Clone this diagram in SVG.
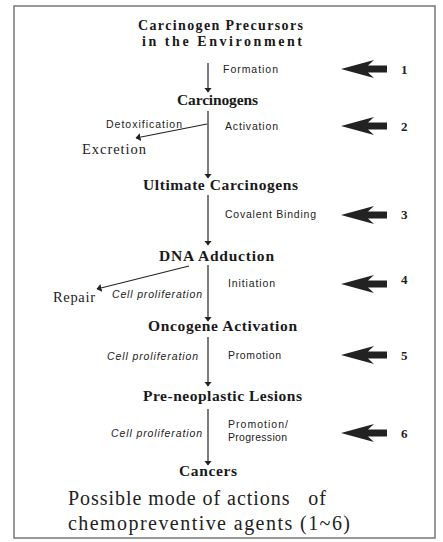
<svg xmlns="http://www.w3.org/2000/svg" width="443" height="542" viewBox="0 0 443 542">
<style>
.h{font-family:"Liberation Serif",serif;font-weight:bold;font-size:15.5px;fill:#1a1a1a}
.t{font-size:14px}
.s{font-family:"Liberation Sans",sans-serif;font-size:10.5px;fill:#222}
.i{font-family:"Liberation Sans",sans-serif;font-style:italic;font-size:10.5px;fill:#222}
.r{font-family:"Liberation Serif",serif;font-size:14.5px;fill:#222}
.n{font-family:"Liberation Serif",serif;font-weight:bold;font-size:13px;fill:#222}
.c{font-family:"Liberation Serif",serif;font-size:20px;fill:#222;white-space:pre}
.ln{stroke:#222;stroke-width:1.2;fill:none}
.big{fill:#222}
</style>
<defs>
<marker id="ah" viewBox="0 0 10 10" refX="9" refY="5" markerWidth="5" markerHeight="8" markerUnits="userSpaceOnUse" orient="auto" preserveAspectRatio="none">
<path d="M0,0 L10,5 L0,10 Z" fill="#222"/>
</marker>
<path id="bigarrow" d="M0,0 L33,-9 L27,-3.5 L46,-3.5 L46,3.5 L27,3.5 L33,9 Z"/>
</defs>
<rect x="14" y="6" width="421" height="532" fill="#fff" stroke="#777" stroke-width="1.5"/>

<g id="n-precursors"><text class="h t" x="138" y="30" textLength="165" lengthAdjust="spacing">Carcinogen Precursors</text><text class="h t" x="142" y="46" textLength="160" lengthAdjust="spacing">in the Environment</text></g>
<g id="n-carcinogens"><text class="h" x="177" y="105" textLength="81" lengthAdjust="spacing">Carcinogens</text></g>
<g id="n-excretion"><text class="r" x="82" y="154" textLength="64" lengthAdjust="spacing">Excretion</text></g>
<g id="n-ultimate"><text class="h" x="143" y="190" textLength="155" lengthAdjust="spacing">Ultimate Carcinogens</text></g>
<g id="n-dna"><text class="h" x="159" y="261" textLength="115" lengthAdjust="spacing">DNA Adduction</text></g>
<g id="n-repair"><text class="r" x="53" y="302" textLength="42" lengthAdjust="spacing">Repair</text></g>
<g id="n-oncogene"><text class="h" x="148" y="331" textLength="149" lengthAdjust="spacing">Oncogene Activation</text></g>
<g id="n-lesions"><text class="h" x="143" y="401" textLength="159" lengthAdjust="spacing">Pre-neoplastic Lesions</text></g>
<g id="n-cancers"><text class="h" x="179" y="476" textLength="58" lengthAdjust="spacing">Cancers</text></g>

<g id="connectors">
<line class="ln" x1="208" y1="63" x2="208" y2="92" marker-end="url(#ah)"/>
<line class="ln" x1="208" y1="111" x2="208" y2="178" marker-end="url(#ah)"/>
<line class="ln" x1="207" y1="124" x2="136" y2="138" marker-end="url(#ah)"/>
<line class="ln" x1="208" y1="195" x2="208" y2="245" marker-end="url(#ah)"/>
<line class="ln" x1="208" y1="265" x2="208" y2="321" marker-end="url(#ah)"/>
<line class="ln" x1="189" y1="266" x2="97" y2="289" marker-end="url(#ah)"/>
<line class="ln" x1="208" y1="337" x2="208" y2="386" marker-end="url(#ah)"/>
<line class="ln" x1="208" y1="409" x2="208" y2="465" marker-end="url(#ah)"/>
</g>

<g id="labels">
<text class="s" x="223" y="73" textLength="55" lengthAdjust="spacing">Formation</text>
<text class="s" x="106" y="128" textLength="76" lengthAdjust="spacing">Detoxification</text>
<text class="s" x="225" y="130" textLength="53" lengthAdjust="spacing">Activation</text>
<text class="s" x="225" y="218" textLength="91" lengthAdjust="spacing">Covalent Binding</text>
<text class="s" x="228" y="287" textLength="47" lengthAdjust="spacing">Initiation</text>
<text class="i" x="112" y="298" textLength="90" lengthAdjust="spacing">Cell proliferation</text>
<text class="i" x="107" y="360" textLength="91" lengthAdjust="spacing">Cell proliferation</text>
<text class="s" x="228" y="359" textLength="53" lengthAdjust="spacing">Promotion</text>
<text class="i" x="111" y="437" textLength="91" lengthAdjust="spacing">Cell proliferation</text>
<text class="s" x="228" y="428" textLength="60" lengthAdjust="spacing">Promotion/</text>
<text class="s" x="228" y="441" textLength="59" lengthAdjust="spacing">Progression</text>
</g>

<g id="agents">
<use href="#bigarrow" class="big" x="341" y="69"/>
<use href="#bigarrow" class="big" x="341" y="126"/>
<use href="#bigarrow" class="big" x="341" y="215"/>
<use href="#bigarrow" class="big" x="341" y="284"/>
<use href="#bigarrow" class="big" x="341" y="355"/>
<use href="#bigarrow" class="big" x="341" y="433"/>
<text class="n" x="401" y="74">1</text>
<text class="n" x="401" y="131">2</text>
<text class="n" x="401" y="219">3</text>
<text class="n" x="401" y="284">4</text>
<text class="n" x="401" y="360">5</text>
<text class="n" x="401" y="438">6</text>
</g>

<g id="caption">
<text class="c" x="68" y="505" textLength="258" lengthAdjust="spacing" xml:space="preserve">Possible mode of actions   of</text>
<text class="c" x="68" y="530" textLength="282" lengthAdjust="spacing">chemopreventive agents (1~6)</text>
</g>
</svg>
